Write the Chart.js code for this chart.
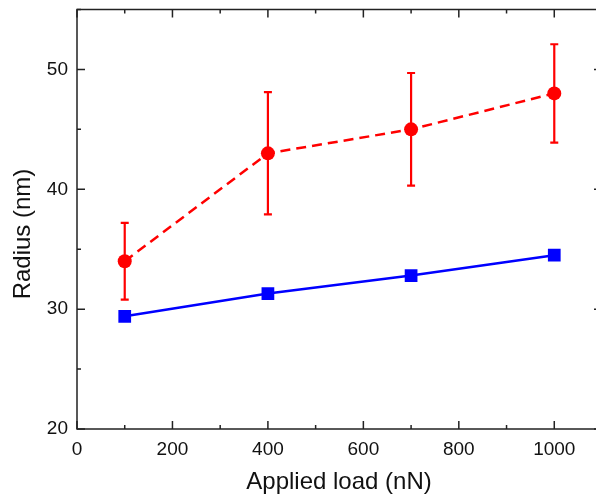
<!DOCTYPE html>
<html>
<head>
<meta charset="utf-8">
<script src="https://cdn.jsdelivr.net/npm/chart.js@4"></script>
<style>
  html, body { margin: 0; padding: 0; background: #fff; overflow: hidden; }
  #wrap { width: 620px; height: 500px; }
</style>
</head>
<body>
<div id="wrap"><canvas id="chart" width="620" height="500"></canvas></div>
<script>
const loads = [100, 400, 700, 1000];
const radiusBlue = [29.4, 31.3, 32.8, 34.5];
const radiusRed = [34.0, 43.0, 45.0, 48.0];
const redErrLow = [30.8, 37.9, 40.3, 43.9];
const redErrHigh = [37.2, 48.1, 49.7, 52.1];
const xTicks = [0, 200, 400, 600, 800, 1000];
const yTicks = [20, 30, 40, 50];
const xTitle = 'Applied load (nN)';
const yTitle = 'Radius (nm)';

const ink = '#111';
const fontFam = "'Liberation Sans', Arial, sans-serif";

// error bars, frame with inward ticks, and axis titles
const framePlugin = {
  id: 'frame',
  beforeDatasetsDraw(chart) {
    const ctx = chart.ctx;
    const x = chart.scales.x, y = chart.scales.y;
    ctx.save();
    ctx.strokeStyle = '#ff0000';
    ctx.lineWidth = 2.2;
    loads.forEach((v, i) => {
      const px = x.getPixelForValue(v);
      const lo = y.getPixelForValue(redErrLow[i]);
      const hi = y.getPixelForValue(redErrHigh[i]);
      ctx.beginPath();
      ctx.moveTo(px, lo); ctx.lineTo(px, hi);
      ctx.moveTo(px - 4, lo); ctx.lineTo(px + 4, lo);
      ctx.moveTo(px - 4, hi); ctx.lineTo(px + 4, hi);
      ctx.stroke();
    });
    ctx.restore();
  },
  afterDraw(chart) {
    const ctx = chart.ctx;
    const a = chart.chartArea;
    const x = chart.scales.x, y = chart.scales.y;
    ctx.save();
    ctx.strokeStyle = '#222';
    ctx.lineWidth = 1.5;
    ctx.strokeRect(a.left, a.top, a.right - a.left, a.bottom - a.top);
    ctx.beginPath();
    for (let v = 0; v <= 1100; v += 100) {
      const px = x.getPixelForValue(v);
      const len = v % 200 === 0 ? 8 : 4;
      ctx.moveTo(px, a.bottom); ctx.lineTo(px, a.bottom - len);
      ctx.moveTo(px, a.top); ctx.lineTo(px, a.top + len);
    }
    for (let v = 20; v <= 55; v += 5) {
      const py = y.getPixelForValue(v);
      const len = v % 10 === 0 ? 8 : 4;
      ctx.moveTo(a.left, py); ctx.lineTo(a.left + len, py);
      ctx.moveTo(a.right, py); ctx.lineTo(a.right - len, py);
    }
    ctx.stroke();

    ctx.fillStyle = ink;
    ctx.font = '24px ' + fontFam;
    ctx.textAlign = 'center';
    ctx.textBaseline = 'middle';
    ctx.fillText(xTitle, 339, 482);
    ctx.translate(23, 234);
    ctx.rotate(-Math.PI / 2);
    ctx.fillText(yTitle, 0, 0);
    ctx.restore();
  },
};

Chart.defaults.font.family = fontFam;
Chart.defaults.color = ink;

new Chart(document.getElementById('chart'), {
  type: 'line',
  data: {
    labels: loads,
    datasets: [
      {
        label: 'Red',
        data: loads.map((v, i) => ({ x: v, y: radiusRed[i] })),
        borderColor: '#ff0000',
        backgroundColor: '#ff0000',
        borderWidth: 2.5,
        borderDash: [10, 6],
        pointStyle: 'circle',
        pointRadius: 7,
        pointBorderWidth: 0,
      },
      {
        label: 'Blue',
        data: loads.map((v, i) => ({ x: v, y: radiusBlue[i] })),
        borderColor: '#0000ff',
        backgroundColor: '#0000ff',
        borderWidth: 2.5,
        pointStyle: 'rect',
        pointRadius: 9,
        pointBorderWidth: 0,
      },
    ],
  },
  options: {
    responsive: false,
    animation: false,
    layout: { padding: { top: 9.5, right: 18, bottom: 0, left: 0 } },
    plugins: { legend: { display: false }, tooltip: { enabled: false } },
    scales: {
      x: {
        type: 'linear',
        min: 0,
        max: 1100,
        afterBuildTicks: (s) => { s.ticks = xTicks.map((v) => ({ value: v })); },
        afterFit: (s) => { s.height = 71; s.paddingLeft = 0; s.paddingRight = 0; },
        grid: { display: false, drawTicks: false },
        border: { display: false },
        ticks: { padding: 9, font: { size: 19 }, callback: (v) => String(v) },
      },
      y: {
        min: 20,
        max: 55,
        afterBuildTicks: (s) => { s.ticks = yTicks.map((v) => ({ value: v })); },
        afterFit: (s) => { s.width = 77; s.paddingTop = 0; s.paddingBottom = 0; },
        grid: { display: false, drawTicks: false },
        border: { display: false },
        ticks: { padding: 9, font: { size: 19 } },
      },
    },
  },
  plugins: [framePlugin],
});
</script>
</body>
</html>
